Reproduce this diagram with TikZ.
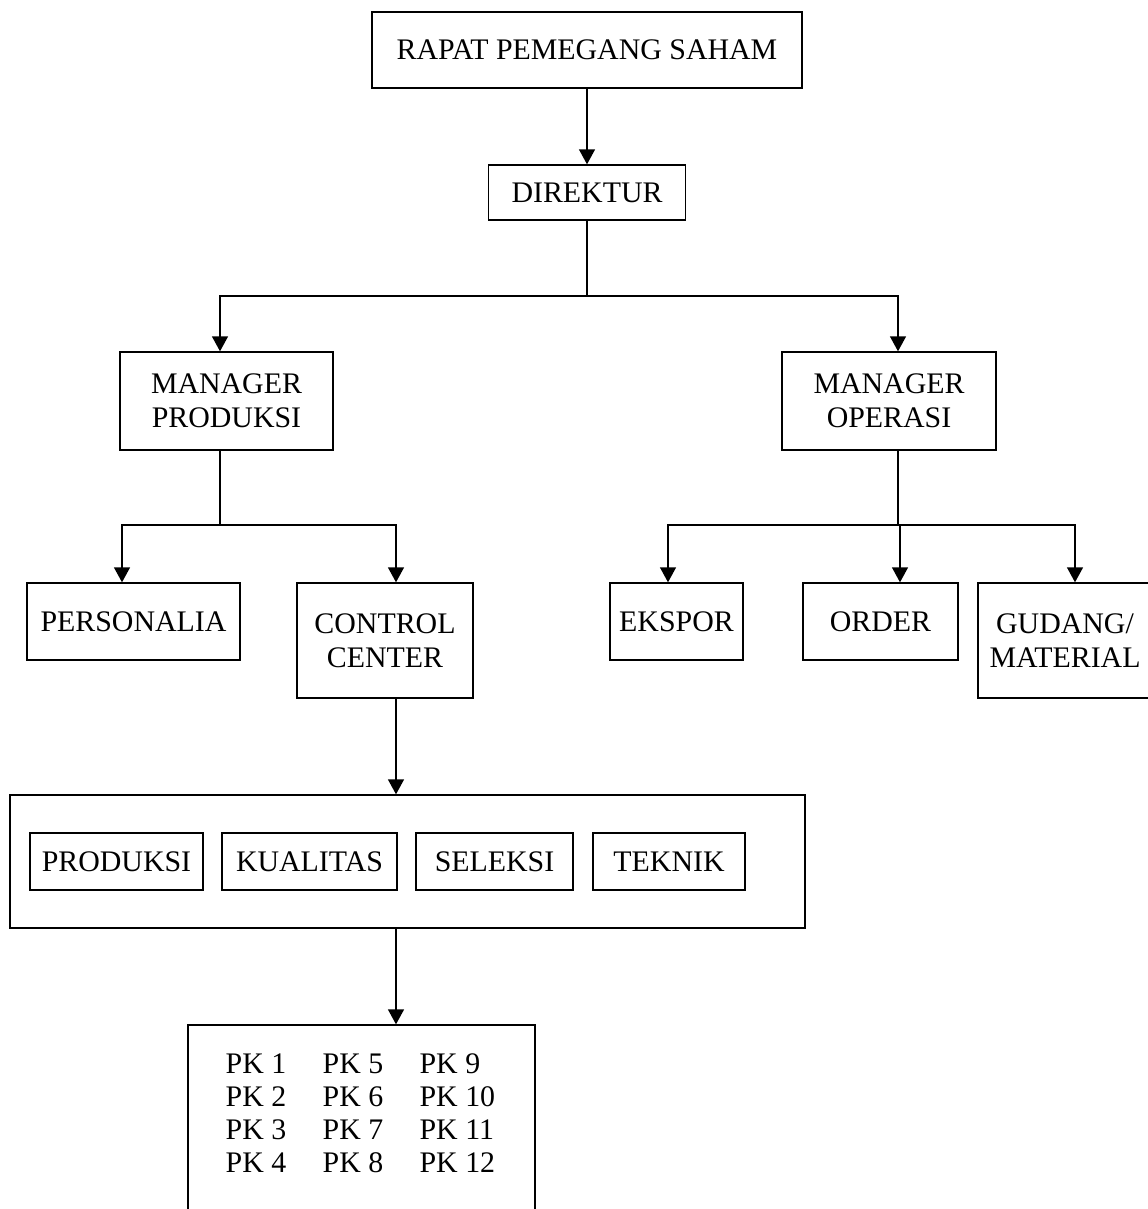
\documentclass[tikz,border=0pt]{standalone}
\usepackage{fontspec}
\setmainfont{Liberation Serif}
\usepackage{tikz}
\usetikzlibrary{arrows.meta}

\begin{document}
\begin{tikzpicture}[x=0.02cm, y=-0.02cm, line width=0.8pt,
	box/.style={draw, rectangle, inner sep=0pt, align=center,
		font=\fontsize{17}{19.4}\selectfont},
	arr/.style={-{Triangle[width=0.32cm, length=0.3cm]}}]
	\clip (0,0) rectangle (1148,1209);

	\node[box, minimum width=8.6cm, minimum height=1.52cm] (rapat) at (587,50) {RAPAT PEMEGANG SAHAM};
	\node[box, minimum width=3.94cm, minimum height=1.1cm] (direktur) at (587,192.5) {DIREKTUR};
	\node[box, minimum width=4.26cm, minimum height=1.96cm] (mprod) at (226.5,401) {MANAGER\\PRODUKSI};
	\node[box, minimum width=4.28cm, minimum height=1.96cm] (mops) at (889,401) {MANAGER\\OPERASI};

	\node[box, minimum width=4.26cm, minimum height=1.54cm] (personalia) at (133.5,621.5) {PERSONALIA};
	\node[box, minimum width=3.52cm, minimum height=2.3cm] (cc) at (385,640.5) {CONTROL\\CENTER};
	\node[box, minimum width=2.66cm, minimum height=1.54cm] (ekspor) at (676.5,621.5) {EKSPOR};
	\node[box, minimum width=3.1cm, minimum height=1.54cm] (order) at (880.5,621.5) {ORDER};
	\node[box, minimum width=3.48cm, minimum height=2.3cm] (gudang) at (1065,640.5) {GUDANG/\\MATERIAL};

	\node[box, minimum width=15.9cm, minimum height=2.66cm] (bigbox) at (407.5,861.5) {};
	\node[box, minimum width=3.46cm, minimum height=1.14cm] (produksi) at (116.5,861.5) {PRODUKSI};
	\node[box, minimum width=3.5cm, minimum height=1.14cm] (kualitas) at (309.5,861.5) {KUALITAS};
	\node[box, minimum width=3.14cm, minimum height=1.14cm] (seleksi) at (494.5,861.5) {SELEKSI};
	\node[box, minimum width=3.04cm, minimum height=1.14cm] (teknik) at (669,861.5) {TEKNIK};

	\node[box, minimum width=6.94cm, minimum height=4.6cm] (pk) at (361.5,1140) {};
	\node[anchor=north west, inner sep=0pt, font=\fontsize{17}{18.8}\selectfont] (pklist) at (225,1050) {%
		\begin{tabular}{@{}p{1.94cm}@{}p{1.94cm}@{}l@{}}
		PK 1 & PK 5 & PK 9\\
		PK 2 & PK 6 & PK 10\\
		PK 3 & PK 7 & PK 11\\
		PK 4 & PK 8 & PK 12
		\end{tabular}};

	% connectors
	\coordinate (j1) at (587,296);
	\coordinate (j2) at ([xshift=-0.13cm]mprod.south |- 0,525);
	\coordinate (j3) at (mops.south |- 0,525);
	\coordinate (c1) at ([xshift=0.22cm]cc.south);

	\draw[arr] (rapat) -- (direktur);
	\draw (direktur.south) -- (j1);
	\draw[arr] (j1) -| ([xshift=-0.13cm]mprod.north);
	\draw[arr] (j1) -| ([xshift=0.18cm]mops.north);

	\draw ([xshift=-0.13cm]mprod.south) -- (j2);
	\draw[arr] (j2) -| ([xshift=-0.23cm]personalia.north);
	\draw[arr] (j2) -| ([xshift=0.22cm]cc.north);

	\draw ([xshift=0.18cm]mops.south) -- ([xshift=0.18cm]j3);
	\draw[arr] ([xshift=0.18cm]j3) -| ([xshift=-0.17cm]ekspor.north);
	\draw[arr] ([xshift=0.18cm]j3) -| ([xshift=0.39cm]order.north);
	\draw[arr] ([xshift=0.18cm]j3) -| ([xshift=0.2cm]gudang.north);

	\draw[arr] (c1) -- (c1 |- bigbox.north);
	\draw[arr] (c1 |- bigbox.south) -- (c1 |- pk.north);
\end{tikzpicture}
\end{document}
